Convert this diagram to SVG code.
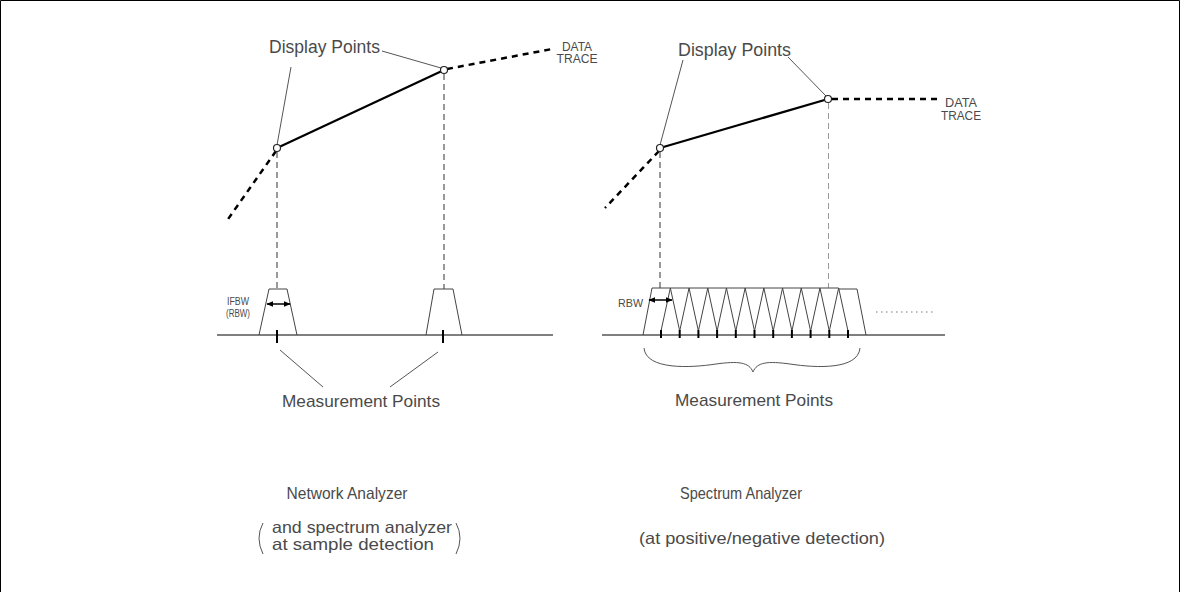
<svg xmlns="http://www.w3.org/2000/svg" width="1180" height="592" viewBox="0 0 1180 592">
<defs>
<style>
.t{font-family:"Liberation Sans",Arial,sans-serif;fill:#4a4a4a;}
.big{font-size:17px;}
.sm{font-size:12px;}
.thin{fill:none;stroke:#444;stroke-width:1;}
.lead{fill:none;stroke:#555;stroke-width:1;}
.vdash{fill:none;stroke:#333;stroke-width:1;stroke-dasharray:6 4;}
.trace{fill:none;stroke:#000;stroke-width:2.2;}
.tracedash{fill:none;stroke:#000;stroke-width:2.5;stroke-dasharray:6 5;}
.dot{fill:#fff;stroke:#222;stroke-width:1.2;}
.tick{stroke:#000;stroke-width:2;}
.base{stroke:#000;stroke-width:1;}
</style>
<marker id="ah" viewBox="0 0 10 10" refX="9" refY="5" markerWidth="7" markerHeight="7" orient="auto-start-reverse" markerUnits="userSpaceOnUse">
<path d="M0,1 L10,5 L0,9 Z" fill="#000"/>
</marker>
</defs>
<rect x="0" y="0" width="1180" height="592" fill="#fff"/>
<path d="M0.5,600 L0.5,0.5 L1179.5,0.5 L1179.5,600" fill="none" stroke="#000" stroke-width="1"/>

<g id="connectors">
<line class="lead" x1="291" y1="67" x2="277" y2="145"/>
<line class="lead" x1="382" y1="51" x2="441" y2="68"/>
<line class="lead" x1="683" y1="60" x2="660" y2="145"/>
<line class="lead" x1="788" y1="57" x2="826" y2="96"/>
<line class="vdash" x1="277" y1="152" x2="277" y2="289"/>
<line class="vdash" x1="444" y1="74" x2="444" y2="289"/>
<line class="vdash" x1="660" y1="152" x2="660" y2="288"/>
<line class="vdash" x1="828.5" y1="103" x2="828.5" y2="288" style="stroke:#999"/>
<line class="lead" x1="280" y1="350" x2="323" y2="387"/>
<line class="lead" x1="438" y1="352" x2="390" y2="387"/>
<path class="lead" d="M644,348 C646,370 690,368 716,364 C738,361 749,362 753,372 C757,362 768,361 790,364 C816,368 858,370 860,348"/>
</g>

<g id="left-trace">
<line class="tracedash" x1="276" y1="151" x2="226" y2="222"/>
<line class="trace" x1="277" y1="148" x2="444" y2="70"/>
<line class="tracedash" x1="447" y1="69" x2="552" y2="49"/>
<circle class="dot" cx="277" cy="148" r="3.5"/>
<circle class="dot" cx="444" cy="70" r="3.5"/>
</g>

<g id="right-trace">
<line class="tracedash" x1="659" y1="151" x2="605" y2="208"/>
<line class="trace" x1="660" y1="148" x2="828" y2="99"/>
<line class="tracedash" x1="832" y1="99" x2="938" y2="99"/>
<circle class="dot" cx="660" cy="148" r="3.5"/>
<circle class="dot" cx="828" cy="99" r="3.5"/>
</g>

<g id="left-labels">
<text class="t" x="269" y="53" font-size="17.5" textLength="111" lengthAdjust="spacingAndGlyphs">Display Points</text>
<text class="t sm" x="577" y="51" text-anchor="middle" textLength="30" lengthAdjust="spacingAndGlyphs">DATA</text>
<text class="t sm" x="577" y="63" text-anchor="middle" textLength="41" lengthAdjust="spacingAndGlyphs">TRACE</text>
</g>

<g id="right-labels">
<text class="t" x="678" y="56" font-size="17.5" textLength="113" lengthAdjust="spacingAndGlyphs">Display Points</text>
<text class="t sm" x="961" y="107" text-anchor="middle" textLength="32" lengthAdjust="spacingAndGlyphs">DATA</text>
<text class="t sm" x="961" y="120" text-anchor="middle" textLength="40" lengthAdjust="spacingAndGlyphs">TRACE</text>
</g>

<g id="left-filters">
<line class="base" x1="217" y1="335" x2="553" y2="335"/>
<path class="thin" d="M259,335 L269,289 L287,289 L297,335"/>
<path class="thin" d="M426,335 L434,289 L453,289 L462,335"/>
<line class="tick" x1="277" y1="330" x2="277" y2="343"/>
<line class="tick" x1="443" y1="330" x2="443" y2="343"/>
<line x1="267" y1="304" x2="290" y2="304" stroke="#000" stroke-width="1.5" marker-start="url(#ah)" marker-end="url(#ah)"/>
<text class="t" x="227" y="305" font-size="10" textLength="22" lengthAdjust="spacingAndGlyphs">IFBW</text>
<text class="t" x="226" y="317" font-size="10" textLength="24" lengthAdjust="spacingAndGlyphs">(RBW)</text>
</g>

<g id="right-filters">
<line class="base" x1="602" y1="335" x2="945" y2="335"/>
<path class="thin" d="M643,335 L652,288 L838.65,288 M838.65,289 L857,289 L866,335"/>
<path class="thin" d="M661,331 L670.35,288 L679.7,331 L689.05,288 L698.4,331 L707.75,288 L717.1,331 L726.45,288 L735.8,331 L745.15,288 L754.5,331 L763.85,288 L773.2,331 L782.55,288 L791.9,331 L801.25,288 L810.6,331 L819.95,288 L829.3,331 L838.65,288 L848,331"/>
<g class="tick">
<line x1="661" y1="330" x2="661" y2="338"/>
<line x1="679.7" y1="330" x2="679.7" y2="338"/>
<line x1="698.4" y1="330" x2="698.4" y2="338"/>
<line x1="717.1" y1="330" x2="717.1" y2="338"/>
<line x1="735.8" y1="330" x2="735.8" y2="338"/>
<line x1="754.5" y1="330" x2="754.5" y2="338"/>
<line x1="773.2" y1="330" x2="773.2" y2="338"/>
<line x1="791.9" y1="330" x2="791.9" y2="338"/>
<line x1="810.6" y1="330" x2="810.6" y2="338"/>
<line x1="829.3" y1="330" x2="829.3" y2="338"/>
<line x1="848" y1="330" x2="848" y2="338"/>
</g>
<line x1="649" y1="300" x2="672" y2="300" stroke="#000" stroke-width="1.5" marker-start="url(#ah)" marker-end="url(#ah)"/>
<text class="t" x="618" y="307" font-size="11.5" textLength="25" lengthAdjust="spacingAndGlyphs">RBW</text>
<line x1="876" y1="312" x2="934" y2="312" stroke="#777" stroke-width="1" stroke-dasharray="1.5 3.5"/>
</g>

<g id="left-captions">
<text class="t big" x="361" y="407" text-anchor="middle" textLength="158" lengthAdjust="spacingAndGlyphs">Measurement Points</text>
<text class="t" x="347" y="499" font-size="16.5" text-anchor="middle" textLength="121" lengthAdjust="spacingAndGlyphs">Network Analyzer</text>
<path class="lead" d="M263,523 Q255,538 263,554"/>
<path class="lead" d="M456,523 Q464,538 456,554"/>
<text class="t" x="272" y="533" font-size="16.5" textLength="180" lengthAdjust="spacingAndGlyphs">and spectrum analyzer</text>
<text class="t" x="272" y="550" font-size="16.5" textLength="162" lengthAdjust="spacingAndGlyphs">at sample detection</text>
</g>

<g id="right-captions">
<text class="t big" x="754" y="406" text-anchor="middle" textLength="158" lengthAdjust="spacingAndGlyphs">Measurement Points</text>
<text class="t" x="741" y="499" font-size="16.5" text-anchor="middle" textLength="122" lengthAdjust="spacingAndGlyphs">Spectrum Analyzer</text>
<text class="t" x="762" y="544" font-size="16.5" text-anchor="middle" textLength="246" lengthAdjust="spacingAndGlyphs">(at positive/negative detection)</text>
</g>
</svg>
